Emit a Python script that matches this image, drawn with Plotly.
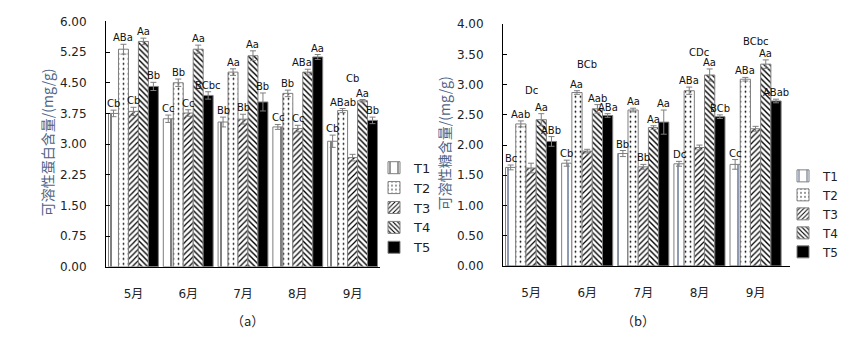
import plotly.graph_objects as go

# Months on the category axis and treatment names
months = ["5月", "6月", "7月", "8月", "9月"]
treatments = ["T1", "T2", "T3", "T4", "T5"]

# (a) soluble protein, mg/g — one list per treatment, one value per month
protein = {
    "T1": [3.75, 3.62, 3.54, 3.42, 3.07],
    "T2": [5.32, 4.50, 4.76, 4.24, 3.82],
    "T3": [3.80, 3.76, 3.61, 3.38, 2.67],
    "T4": [5.51, 5.32, 5.16, 4.76, 4.06],
    "T5": [4.41, 4.19, 4.03, 5.13, 3.58],
}
protein_err = {
    "T1": [0.08, 0.09, 0.12, 0.06, 0.15],
    "T2": [0.12, 0.09, 0.08, 0.08, 0.05],
    "T3": [0.10, 0.08, 0.12, 0.08, 0.08],
    "T4": [0.08, 0.10, 0.12, 0.07, 0.03],
    "T5": [0.10, 0.09, 0.22, 0.06, 0.08],
}
protein_sig = {
    "T1": ["Cb", "Cc", "Bb", "Cc", "Cb"],
    "T2": ["ABa", "Bb", "Aa", "Bb", "ABab"],
    "T3": ["Cb", "Cc", "Bb", "Cc", "Cb"],
    "T4": ["Aa", "Aa", "Aa", "ABa", "Aa"],
    "T5": ["Bb", "BCbc", "Bb", "Aa", "Bb"],
}

# (b) soluble sugar, mg/g
sugar = {
    "T1": [1.63, 1.70, 1.86, 1.69, 1.68],
    "T2": [2.35, 2.87, 2.58, 2.90, 3.09],
    "T3": [1.62, 1.90, 1.64, 1.96, 2.27],
    "T4": [2.42, 2.60, 2.29, 3.16, 3.34],
    "T5": [2.06, 2.49, 2.38, 2.47, 2.73],
}
sugar_err = {
    "T1": [0.04, 0.05, 0.05, 0.04, 0.08],
    "T2": [0.05, 0.03, 0.03, 0.06, 0.03],
    "T3": [0.08, 0.03, 0.04, 0.04, 0.04],
    "T4": [0.10, 0.07, 0.03, 0.10, 0.07],
    "T5": [0.08, 0.03, 0.20, 0.03, 0.03],
}
sugar_sig = {
    "T1": ["Bc", "Cb", "Bb", "Dc", "Cc"],
    "T2": ["Aab", "Aa", "Aa", "ABa", "ABa"],
    "T3": ["Dc", "BCb", "Bb", "CDc", "BCbc"],
    "T4": ["Aa", "Aab", "Aa", "Aa", "Aa"],
    "T5": ["ABb", "ABa", "Aa", "BCb", "ABab"],
}

# letters that sit high above their bar: (treatment, month index) -> anchor height
protein_raised = {("T3", 4): 4.45}
sugar_raised = {("T3", 0): 2.80, ("T3", 1): 3.22, ("T3", 3): 3.42, ("T3", 4): 3.60}
# small sideways shifts (px) for letters that would run into a neighbouring bar
protein_nudge = {("T4", 3): -6}
sugar_nudge = {}

W, H = 855, 340
BARGAP = 0.09
FONT = "DejaVu Sans, Noto Sans CJK SC, sans-serif"
EDGE = "#7f7f7f"


def bar_style(name, line_color):
    if name == "T5":
        return dict(color="black", line=dict(color=EDGE, width=1))
    shapes = {
        "T1": dict(shape="|", size=10, solidity=0.1, fgcolor=line_color),
        "T2": dict(shape=".", size=5, solidity=0.1, fgcolor="black"),
        "T3": dict(shape="/", size=4, solidity=0.3, fgcolor="black"),
        "T4": dict(shape="\\", size=4, solidity=0.35, fgcolor="black"),
    }
    pat = shapes[name]
    pat.update(bgcolor="white", fillmode="replace")
    return dict(color="white", pattern=pat, line=dict(color=EDGE, width=1))


fig = go.Figure()
annotations = []


def add_panel(values, errs, sigs, raised, nudge, xa, ya, legend, t1_color):
    w = (1 - BARGAP) / len(treatments)
    for k, t in enumerate(treatments):
        fig.add_trace(go.Bar(
            x=months, y=values[t], name=t,
            xaxis=xa, yaxis=ya, legend=legend,
            marker=bar_style(t, t1_color),
            error_y=dict(type="data", array=errs[t], color=EDGE,
                         thickness=1, width=3),
        ))
        for i, lab in enumerate(sigs[t]):
            top = values[t][i] + errs[t][i]
            y = raised.get((t, i), top)
            annotations.append(dict(
                x=i + (k - 2) * w, y=y, xref=xa, yref=ya,
                xshift=nudge.get((t, i), 0),
                text=lab, showarrow=False, yanchor="bottom",
                font=dict(family=FONT, size=10, color="#111"),
                borderpad=0,
            ))


add_panel(protein, protein_err, protein_sig, protein_raised, protein_nudge,
          "x", "y", "legend", "black")
add_panel(sugar, sugar_err, sugar_sig, sugar_raised, sugar_nudge,
          "x2", "y2", "legend2", "#1f3864")

axis_common = dict(showline=True, linecolor="black", linewidth=1,
                   showgrid=False, zeroline=False,
                   tickfont=dict(family=FONT, size=12, color="#222"))

fig.update_layout(
    width=W, height=H,
    margin=dict(l=0, r=0, t=0, b=0),
    paper_bgcolor="white", plot_bgcolor="white",
    barmode="group", bargap=BARGAP, bargroupgap=0,
    xaxis=dict(domain=[106 / W, 380 / W], anchor="y", ticks="",
               ticklabelstandoff=16, **axis_common),
    yaxis=dict(domain=[1 - 271 / H, 1 - 15 / H], anchor="x",
               range=[0, 6], dtick=0.75, tickformat=".2f",
               ticks="inside", ticklen=4, tickcolor="black",
               ticklabelstandoff=16, **axis_common),
    xaxis2=dict(domain=[503 / W, 790 / W], anchor="y2", ticks="",
                ticklabelstandoff=16, **axis_common),
    yaxis2=dict(domain=[1 - 270 / H, 1 - 18 / H], anchor="x2",
                range=[0, 4], dtick=0.5, tickformat=".2f",
                ticks="inside", ticklen=4, tickcolor="black",
                ticklabelstandoff=16, **axis_common),
    legend=dict(x=374 / W, y=1 - 152 / H, xanchor="left", yanchor="top",
                bgcolor="rgba(0,0,0,0)",
                font=dict(family=FONT, size=13, color="#222")),
    legend2=dict(x=783 / W, y=1 - 161 / H, xanchor="left", yanchor="top",
                 bgcolor="rgba(0,0,0,0)",
                 font=dict(family=FONT, size=12, color="#222")),
)

title_font = dict(family="Noto Sans CJK SC, sans-serif", size=14, color="#4d6385")
annotations += [
    dict(x=35 / W, y=1 - 141 / H, xref="paper", yref="paper",
         text="可溶性蛋白含量/(mg/g)", textangle=-90, showarrow=False,
         font=title_font),
    dict(x=444 / W, y=1 - 142 / H, xref="paper", yref="paper",
         text="可溶性糖含量/(mg/g)", textangle=-90, showarrow=False,
         font=title_font),
    dict(x=229 / W, y=1 - 327 / H, xref="paper", yref="paper",
         text="（a）", showarrow=False, yanchor="middle",
         font=dict(family="Noto Sans CJK SC, sans-serif", size=13, color="#222")),
    dict(x=657 / W, y=1 - 327 / H, xref="paper", yref="paper",
         text="（b）", showarrow=False, yanchor="middle",
         font=dict(family="Noto Sans CJK SC, sans-serif", size=13, color="#222")),
]
fig.update_layout(annotations=annotations)

fig.write_html("out.html")
